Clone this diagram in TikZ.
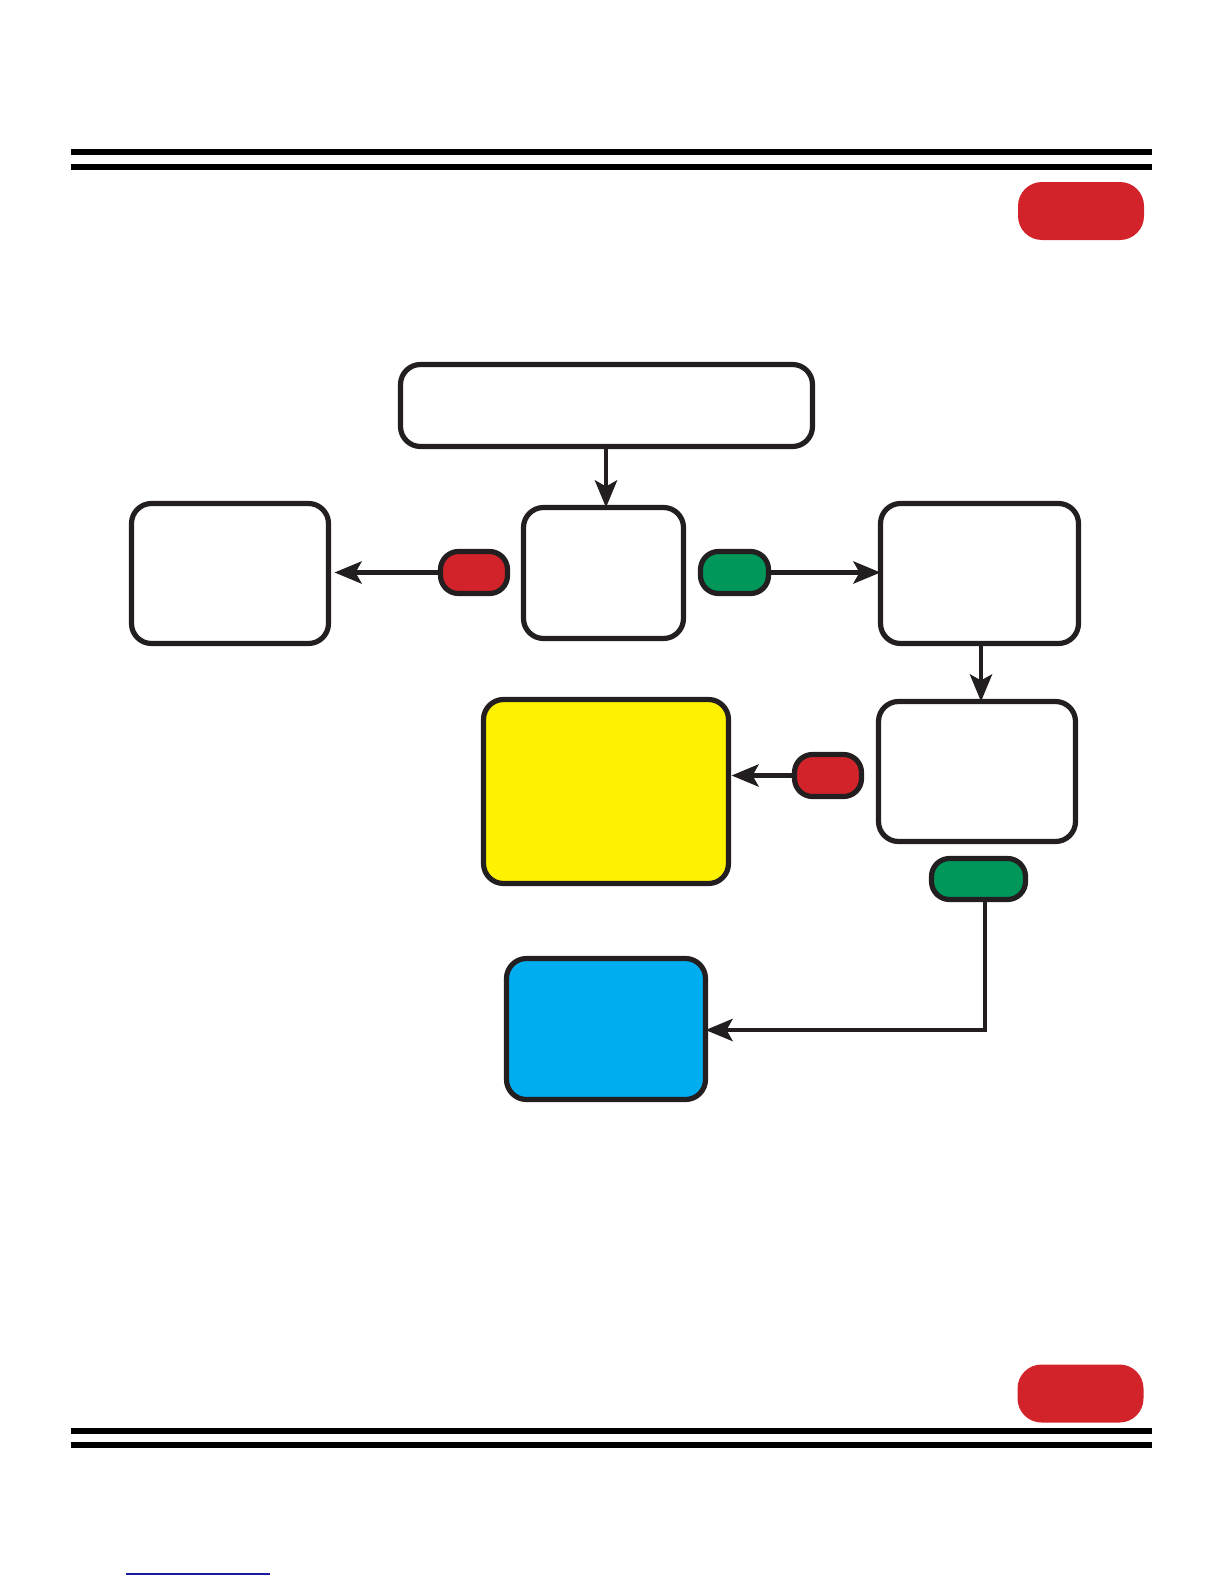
\documentclass[tikz,border=0pt]{standalone}
\usetikzlibrary{arrows.meta}
\definecolor{ink}{HTML}{231F20}
\definecolor{pred}{HTML}{D2232A}
\definecolor{pgreen}{HTML}{00975A}
\definecolor{pyellow}{HTML}{FFF200}
\definecolor{pblue}{HTML}{00AEEF}
\definecolor{plink}{HTML}{1A1AA0}
\begin{document}
\begin{tikzpicture}[x=0.5pt,y=-0.5pt,
  box/.style={draw=ink,line width=2.6pt,rounded corners=10pt,inner sep=0pt,outer sep=0pt},
  pill/.style={draw=ink,line width=2.6pt,rounded corners=9pt,inner sep=0pt,outer sep=0pt},
  tab/.style={fill=pred,rounded corners=12pt,inner sep=0pt,outer sep=0pt,minimum width=63pt,minimum height=29pt},
  conn/.style={draw=ink,line width=2.4pt,-{Stealth[length=13.5pt,width=11pt,inset=3pt]}},
  rule/.style={line width=3pt,black}]
\useasboundingbox (0,0) rectangle (1224,1584);
% rules
\coordinate (r1a) at (71,152); \coordinate (r1b) at (1152,152);
\coordinate (r2a) at (71,167); \coordinate (r2b) at (1152,167);
\coordinate (r3a) at (71,1431); \coordinate (r3b) at (1152,1431);
\coordinate (r4a) at (71,1445); \coordinate (r4b) at (1152,1445);
\draw[rule] (r1a) -- (r1b);
\draw[rule] (r2a) -- (r2b);
\draw[rule] (r3a) -- (r3b);
\draw[rule] (r4a) -- (r4b);
% corner tabs
\node[tab] (tabtop) at (1081,211) {};
\node[tab] (tabbot) at (1080.5,1393.5) {};
% link underline
\coordinate (la) at (126,1574); \coordinate (lb) at (270,1574);
\draw[plink,line width=0.7pt] (la) -- (lb);
% boxes
\node[box,minimum width=206pt,minimum height=41pt] (top) at (606.5,405.5) {};
\node[box,minimum width=80pt,minimum height=65.5pt] (center) at (603.5,573) {};
\node[box,minimum width=98.5pt,minimum height=70pt] (left) at (230,573.5) {};
\node[box,minimum width=99pt,minimum height=70pt] (rt) at (979.5,573.5) {};
\node[box,minimum width=98.5pt,minimum height=70pt] (rm) at (977,771.5) {};
\node[box,fill=pyellow,minimum width=122.5pt,minimum height=92pt] (yellow) at (606,791.5) {};
\node[box,fill=pblue,minimum width=99.5pt,minimum height=70.5pt] (blue) at (606,1029) {};
% pills
\node[pill,fill=pred,minimum width=33.5pt,minimum height=21pt] (red1) at (474,572.5) {};
\node[pill,fill=pgreen,minimum width=34pt,minimum height=21pt] (green1) at (734.5,572.5) {};
\node[pill,fill=pred,minimum width=33.5pt,minimum height=21pt] (red2) at (828,775.5) {};
\node[pill,fill=pgreen,minimum width=47pt,minimum height=20.5pt] (green2) at (978.5,879) {};
% connectors
\draw[conn] (top.south -| 606,0) -- (center.north -| 606,0);
\draw[conn,shorten >=3pt] (red1.west) -- (left.east |- red1.west);
\draw[conn] (green1.east) -- (rt.west |- green1.east);
\draw[conn] (rt.south -| 981,0) -- (rm.north -| 981,0);
\draw[conn,shorten >=1.5pt] (red2.west) -- (yellow.east |- red2.west);
\draw[conn] (green2.south -| 985,0) |- (blue.east |- 0,1030);
\end{tikzpicture}
\end{document}
